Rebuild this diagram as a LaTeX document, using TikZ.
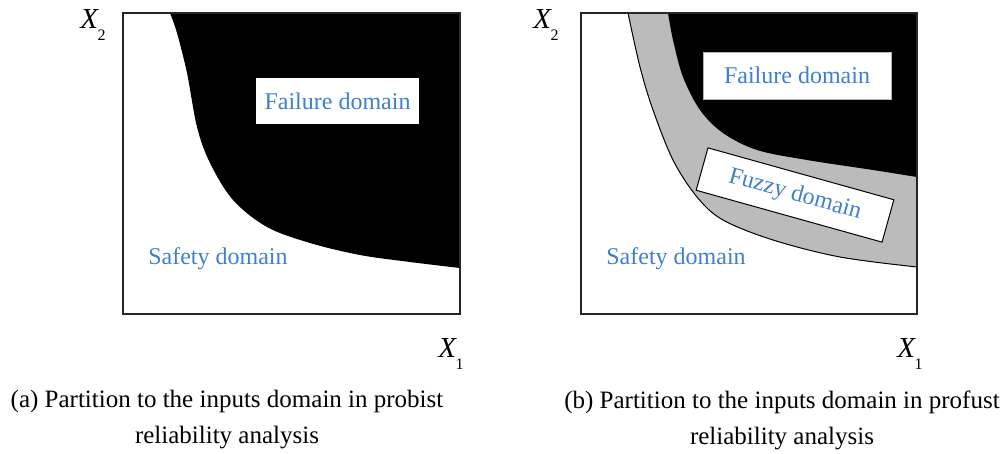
\documentclass[tikz,border=0pt]{standalone}
\usepackage{fontspec}
\setmainfont{Liberation Serif}
\usetikzlibrary{positioning}

\definecolor{domainblue}{RGB}{62,128,204}
\definecolor{fuzzygray}{RGB}{187,187,187}

% axis name X_i, upright subscript set low
\newcommand{\axisname}[1]{{\itshape X}\kern-0.5pt\raisebox{-0.4em}{\fontsize{16}{16}\selectfont #1}}

\begin{document}
\begin{tikzpicture}[x=1pt,y=-1pt]

        \tikzstyle{frame}=[draw=black!85, line width=1.2pt]
        \tikzstyle{domainbox}=[fill=white, text=domainblue, inner sep=0pt, font=\fontsize{24}{27}\selectfont]
        \tikzstyle{axis}=[inner sep=0pt, font=\fontsize{29}{30}\selectfont]
        \tikzstyle{caption}=[align=center, inner sep=0pt, font=\fontsize{25}{36}\selectfont]

        \useasboundingbox (0,0) rectangle (1003,453);

        % (a) two domains
        \fill[black] plot[smooth, tension=0.55] coordinates {(170,13) (177,33) (187,73) (197,127) (210,163) (233,200) (267,227) (310,243) (360,255) (410,262) (460,268)} -- (460,13) -- cycle;
        \draw[frame] (123,13) rectangle (460,314);

        \node (faila) [domainbox, minimum width=163pt, minimum height=46pt] at (337.5,101) {Failure domain};
        \node (safea) [domainbox, fill=none] at (218,259) {Safety domain};
        \node (x2a) [axis] at (93,25) {\axisname{2}};
        \node (x1a) [axis] at (451,354) {\axisname{1}};

        % (b) fuzzy band between the two limit curves
        \fill[fuzzygray] plot[smooth, tension=0.55] coordinates {(628,13) (640,67) (653,110) (673,160) (697,197) (723,220) (773,240) (840,257) (917,267)} -- (917,13) -- cycle;
        \fill[black] plot[smooth, tension=0.55] coordinates {(668,13) (673,40) (683,77) (700,110) (723,133) (757,150) (807,160) (873,170) (917,177)} -- (917,13) -- cycle;
        \draw[line width=1pt] plot[smooth, tension=0.55] coordinates {(628,13) (640,67) (653,110) (673,160) (697,197) (723,220) (773,240) (840,257) (917,267)};
        \draw[frame] (581,13) rectangle (917,314);

        \node (failb) [domainbox, draw=black!30, minimum width=188pt, minimum height=47pt] at (797,75.5) {Failure domain};
        \node (fuzzyb) [domainbox, draw=black, line width=1pt, minimum width=193pt, minimum height=44pt, rotate=-15.6] at (795,195) {Fuzzy domain};
        \node (safeb) [domainbox, fill=none] at (676,259) {Safety domain};
        \node (x2b) [axis] at (546,25) {\axisname{2}};
        \node (x1b) [axis] at (910,354) {\axisname{1}};

        % captions
        \node (capa) [caption] at (227,420) {(a) Partition to the inputs domain in probist\\reliability analysis};
        \node (capb) [caption] at (782,420) {(b) Partition to the inputs domain in profust\\reliability analysis};

\end{tikzpicture}
\end{document}
